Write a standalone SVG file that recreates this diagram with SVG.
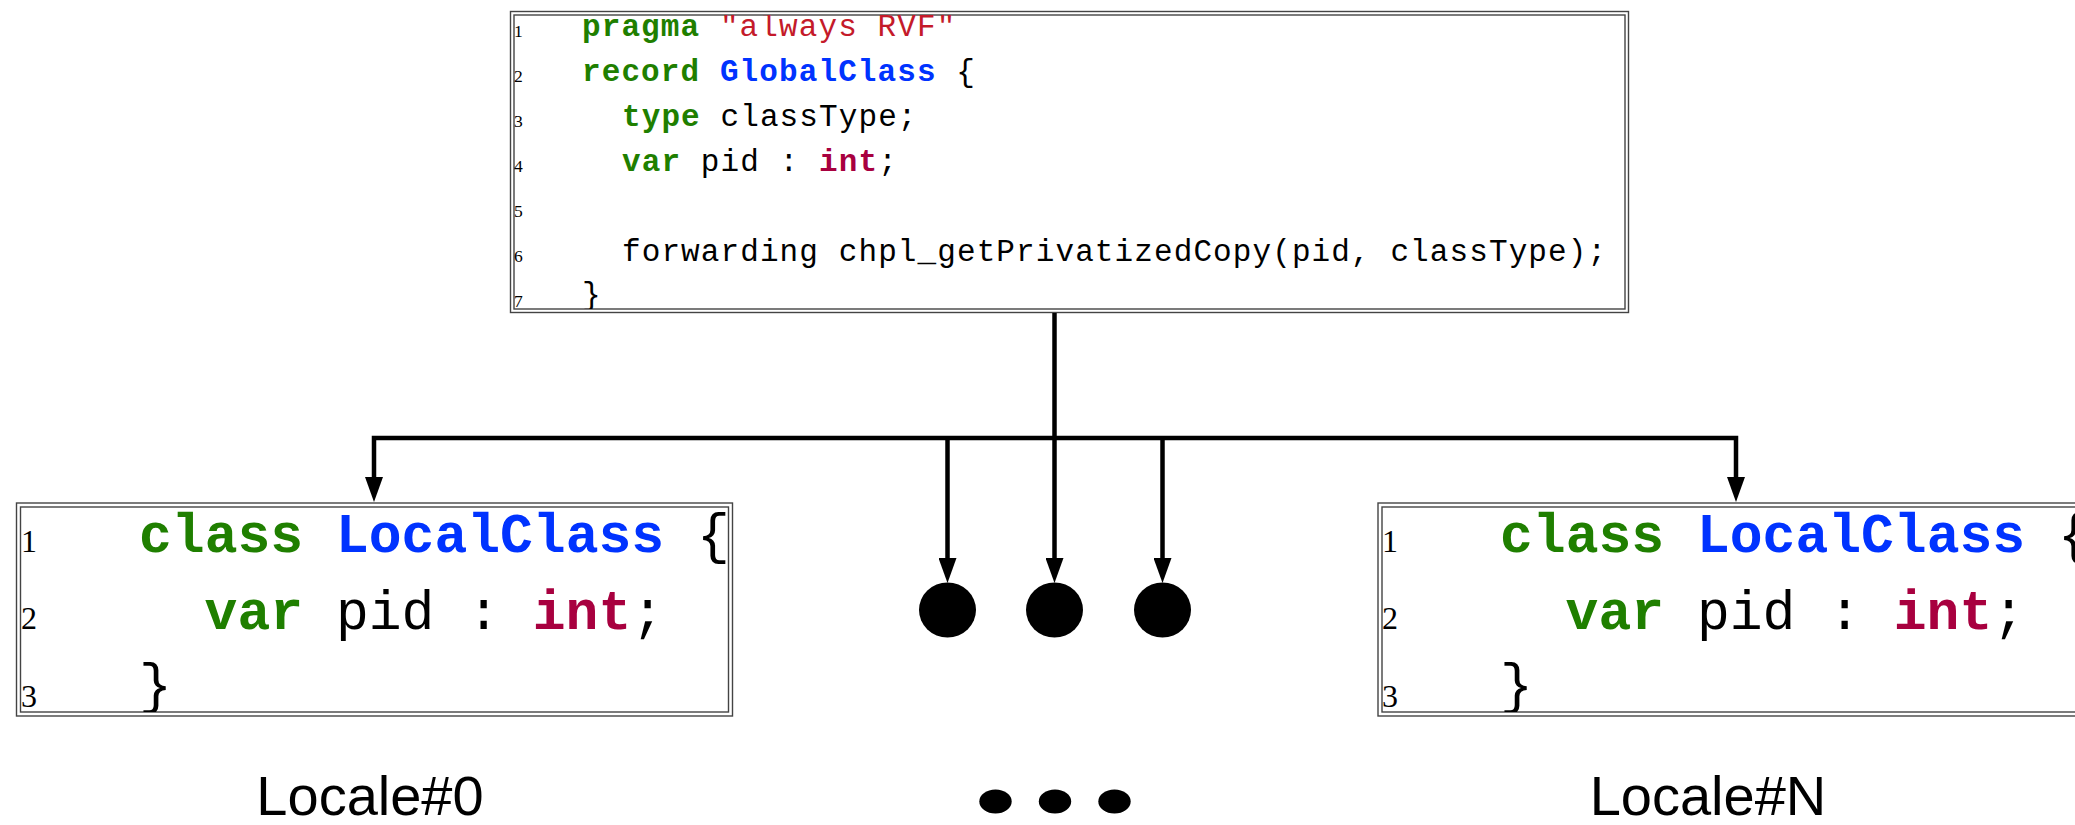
<svg xmlns="http://www.w3.org/2000/svg" width="2075" height="825" viewBox="0 0 2075 825">
<style>
.frame{fill:none;stroke:#444;stroke-width:1.4}
.code{font-family:"Liberation Mono","DejaVu Sans Mono",monospace;fill:#000}
.sm{font-size:31px;letter-spacing:1.1px}
.lg{font-size:54.7px}
.kw{fill:#1f7f00;font-weight:bold}
.cls{fill:#0033ff;font-weight:bold}
.str{fill:#c41a2a}
.ty{fill:#a8003f;font-weight:bold}
.ln{font-family:"Liberation Serif","DejaVu Serif",serif;fill:#000}
.lbl{font-family:"Liberation Sans",Arial,sans-serif;font-size:56px;fill:#000;text-anchor:middle}
.conn{fill:none;stroke:#000;stroke-width:4.5;stroke-linejoin:miter}
</style>
<defs>
<marker id="ah" markerUnits="userSpaceOnUse" markerWidth="25" markerHeight="18" viewBox="0 0 25 18" refX="0" refY="9" orient="auto">
<path d="M0,0 L25,9 L0,18 z" fill="#000"/>
</marker>
<clipPath id="cg"><rect x="514" y="15" width="1111" height="294"/></clipPath>
<clipPath id="c0"><rect x="20.5" y="507" width="708" height="205"/></clipPath>
<clipPath id="cn"><rect x="1382" y="507" width="720" height="205"/></clipPath>
</defs>
<rect width="2075" height="825" fill="#fff"/>

<g id="node-global">
<rect class="frame" x="510.5" y="11.5" width="1118" height="301"/>
<rect class="frame" x="514" y="15" width="1111" height="294"/>
<g clip-path="url(#cg)">
<g class="ln" font-size="17.5">
<text x="514" y="37">1</text>
<text x="514" y="82">2</text>
<text x="514" y="127">3</text>
<text x="514" y="172">4</text>
<text x="514" y="217">5</text>
<text x="514" y="262">6</text>
<text x="514" y="307">7</text>
</g>
<g class="code sm">
<text x="582" y="36"><tspan class="kw">pragma</tspan> <tspan class="str">"always RVF"</tspan></text>
<text x="582" y="81"><tspan class="kw">record</tspan> <tspan class="cls">GlobalClass</tspan> {</text>
<text x="622" y="126"><tspan class="kw">type</tspan> classType;</text>
<text x="622" y="171"><tspan class="kw">var</tspan> pid : <tspan class="ty">int</tspan>;</text>
<text x="622" y="261">forwarding chpl_getPrivatizedCopy(pid, classType);</text>
<text x="582" y="304">}</text>
</g>
</g>
</g>

<g id="node-local0">
<rect class="frame" x="16.5" y="503" width="716" height="213"/>
<rect class="frame" x="20.5" y="507" width="708" height="205"/>
<g clip-path="url(#c0)">
<g class="ln" font-size="32">
<text x="21" y="552">1</text>
<text x="21" y="629">2</text>
<text x="21" y="707">3</text>
</g>
<g class="code lg">
<text x="139" y="552"><tspan class="kw">class</tspan> <tspan class="cls">LocalClass</tspan> {</text>
<text x="204.6" y="629"><tspan class="kw">var</tspan> pid : <tspan class="ty">int</tspan>;</text>
<text x="139" y="702">}</text>
</g>
</g>
</g>

<g id="node-localN">
<rect class="frame" x="1378" y="503" width="730" height="213"/>
<rect class="frame" x="1382" y="507" width="722" height="205"/>
<g clip-path="url(#cn)">
<g class="ln" font-size="32">
<text x="1382" y="552">1</text>
<text x="1382" y="629">2</text>
<text x="1382" y="707">3</text>
</g>
<g class="code lg">
<text x="1500" y="552"><tspan class="kw">class</tspan> <tspan class="cls">LocalClass</tspan> {</text>
<text x="1565.6" y="629"><tspan class="kw">var</tspan> pid : <tspan class="ty">int</tspan>;</text>
<text x="1500" y="702">}</text>
</g>
</g>
</g>

<g id="node-dots">
<ellipse cx="947.5" cy="610" rx="28.5" ry="27.5" fill="#000"/>
<ellipse cx="1054.5" cy="610" rx="28.5" ry="27.5" fill="#000"/>
<ellipse cx="1162.5" cy="610" rx="28.5" ry="27.5" fill="#000"/>
</g>

<g id="connectors">
<path class="conn" d="M1054.5,313 V438"/>
<path class="conn" d="M1054.5,438 H374 V477" marker-end="url(#ah)"/>
<path class="conn" d="M1054.5,438 H1736 V477" marker-end="url(#ah)"/>
<path class="conn" d="M947.5,438 V558" marker-end="url(#ah)"/>
<path class="conn" d="M1054.5,438 V558" marker-end="url(#ah)"/>
<path class="conn" d="M1162.5,438 V558" marker-end="url(#ah)"/>
</g>

<g id="labels">
<text class="lbl" x="370" y="815">Locale#0</text>
<g id="ellipsis">
<ellipse cx="995.5" cy="801.5" rx="16.2" ry="12" fill="#000"/>
<ellipse cx="1055" cy="801.5" rx="16.2" ry="12" fill="#000"/>
<ellipse cx="1114.5" cy="801.5" rx="16.2" ry="12" fill="#000"/>
</g>
<text class="lbl" x="1708" y="815">Locale#N</text>
</g>
</svg>
